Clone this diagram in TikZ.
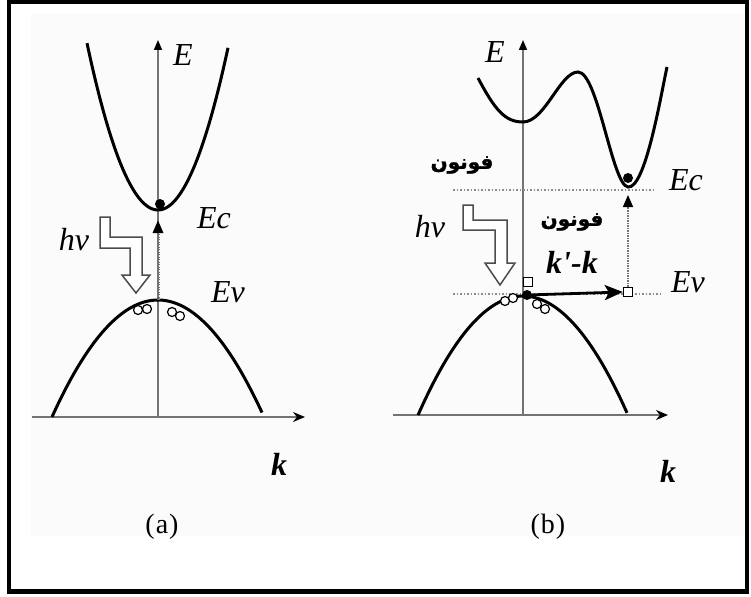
\documentclass[tikz,border=0pt]{standalone}
\usepackage{fontspec}
\setmainfont{Liberation Serif}
\newfontfamily\arabicfont[Script=Arabic,FakeBold=1.5]{DejaVu Sans}
\TeXXeTstate=1
\usetikzlibrary{arrows.meta,positioning,calc}

\begin{document}
\begin{tikzpicture}[x=1pt, y=-1pt,
  axis/.style={draw=black!55, line width=1.6pt},
  band/.style={line width=3pt, black},
  gap/.style={draw=black!55, line width=1.5pt, densely dotted},
  level/.style={draw=black!45, line width=1.5pt, dotted},
  kick/.style={line width=2.8pt, black, -{Stealth[length=18pt,width=15pt,inset=4pt]}},
  photon/.style={draw=black!70, line width=1.5pt, fill=white},
  hole/.style={circle, draw=black, line width=1.2pt, fill=white, inner sep=0pt, minimum size=9pt},
  elec/.style={circle, fill=black, inner sep=0pt, minimum size=10pt},
  sq/.style={draw=black, line width=1.3pt, fill=white, inner sep=0pt, minimum size=9pt},
  lbl/.style={font=\fontsize{32}{32}\selectfont\itshape, inner sep=0pt},
  klbl/.style={font=\fontsize{32}{32}\selectfont\bfseries\itshape, inner sep=0pt},
  captxt/.style={font=\fontsize{28}{28}\selectfont, inner sep=0pt},
  arlbl/.style={font=\fontsize{20}{20}\selectfont\arabicfont\bfseries, inner sep=0pt}
]
  \useasboundingbox (0,0) rectangle (751,596);
  \fill[black!1.5] (31,13) rectangle (744,536);
  \draw[line width=4.5pt] (9,2) rectangle (747,591.5);

  % (a) direkter Uebergang
  \coordinate (Ea0) at (158,417);
  \coordinate (Ea1) at (158,40);
  \coordinate (ka0) at (32,417);
  \coordinate (ka1) at (305,417);
  \draw[axis, -{Triangle[length=10pt,width=8pt,color=black]}] (Ea0) -- (Ea1);
  \draw[axis, -{Stealth[length=12pt,width=10pt,color=black]}] (ka0) -- (ka1);

  \draw[band] plot[domain=87:228, samples=60] (\x, {210-0.0331*(\x-158)^2});
  \draw[band] plot[domain=52:262, samples=60] (\x, {300+0.01041*(\x-158)^2});

  \coordinate (vta) at (158,300);
  \coordinate (tra) at (158,220);
  \draw[gap, line width=3pt, dash pattern=on 1pt off 1.5pt,
        -{Triangle[length=13pt,width=10pt,color=black]}] (vta) -- (tra);
  \node[elec] (ea) at (160,204) {};

  \node[hole] (ha1) at (138,310) {};
  \node[hole] (ha2) at (147,309) {};
  \node[hole] (ha3) at (172,312) {};
  \node[hole] (ha4) at (180,316) {};

  \coordinate (pa) at (100,217);
  \draw[photon] (pa) -- ++(10,0) -- ++(0,20) -- ++(32,0) -- ++(0,38) -- ++(8,0)
    -- ++(-14,18) -- ++(-14,-18) -- ++(8,0) -- ++(0,-27) -- ++(-30,0) -- cycle;

  \node[lbl] (Ea) at (183,55) {E};
  \node[lbl] (Eca) at (214,218) {Ec};
  \node[lbl] (Eva) at (228,292) {Ev};
  \node[lbl] (hva) at (74,240) {hν};
  \node[klbl] (kla) at (279,464) {k};
  \node[captxt] (capa) at (162,527) {(\kern1pt a\kern1pt)};

  % (b) indirekter Uebergang
  \coordinate (Eb0) at (523,415);
  \coordinate (Eb1) at (523,40);
  \coordinate (kb0) at (393,415);
  \coordinate (kb1) at (668,415);
  \draw[axis, -{Triangle[length=10pt,width=8pt,color=black]}] (Eb0) -- (Eb1);
  \draw[axis, -{Stealth[length=12pt,width=10pt,color=black]}] (kb0) -- (kb1);

  \coordinate (ecl) at (453,190);
  \coordinate (ecr) at (655,190);
  \coordinate (evl) at (453,294);
  \coordinate (evr) at (663,294);
  \draw[level] (ecl) -- (ecr);
  \draw[level] (evl) -- (evr);

  \draw[band] (478,78) .. controls (495,110) and (505,122) .. (523,122)
    .. controls (545,122) and (560,72) .. (578,72)
    .. controls (598,72) and (612,185) .. (628,187)
    .. controls (645,189) and (660,100) .. (667,67);
  \draw[band] plot[domain=418:627, samples=60] (\x, {296+0.0108*(\x-523)^2});

  \node[hole] (hb1) at (505,301) {};
  \node[hole] (hb2) at (513,298) {};
  \node[hole] (hb3) at (537,304) {};
  \node[hole] (hb4) at (545,309) {};

  \node[sq] (s1) at (528,282) {};
  \node[sq] (s2) at (628,292) {};
  \node[elec] (eb0) at (527,295) {};
  \node[elec] (eb1) at (628,178) {};
  \coordinate (trb) at (628,195);
  \draw[kick] (eb0) -- (s2.west);
  \draw[gap, -{Triangle[length=12pt,width=10pt,color=black]}] (s2.north) -- (trb);

  \coordinate (pb) at (463,205);
  \draw[photon] (pb) -- ++(10,0) -- ++(0,15) -- ++(34,0) -- ++(0,43) -- ++(8,0)
    -- ++(-15,22) -- ++(-15,-22) -- ++(10,0) -- ++(0,-33) -- ++(-32,0) -- cycle;

  \node[lbl] (Eb) at (495,52) {E};
  \node[lbl] (Ecb) at (686,180) {Ec};
  \node[lbl] (Evb) at (688,282) {Ev};
  \node[lbl] (hvb) at (430,227) {hν};
  \node[arlbl] (ph1) at (462,165) {\beginR فونون\endR};
  \node[arlbl] (ph2) at (572,222) {\beginR فونون\endR};
  \node[klbl] (dk) at (572,262) {k\textquotesingle-k};
  \node[klbl] (klb) at (668,471) {k};
  \node[captxt] (capb) at (548,527) {(\kern1pt b\kern1pt)};
\end{tikzpicture}
\end{document}
